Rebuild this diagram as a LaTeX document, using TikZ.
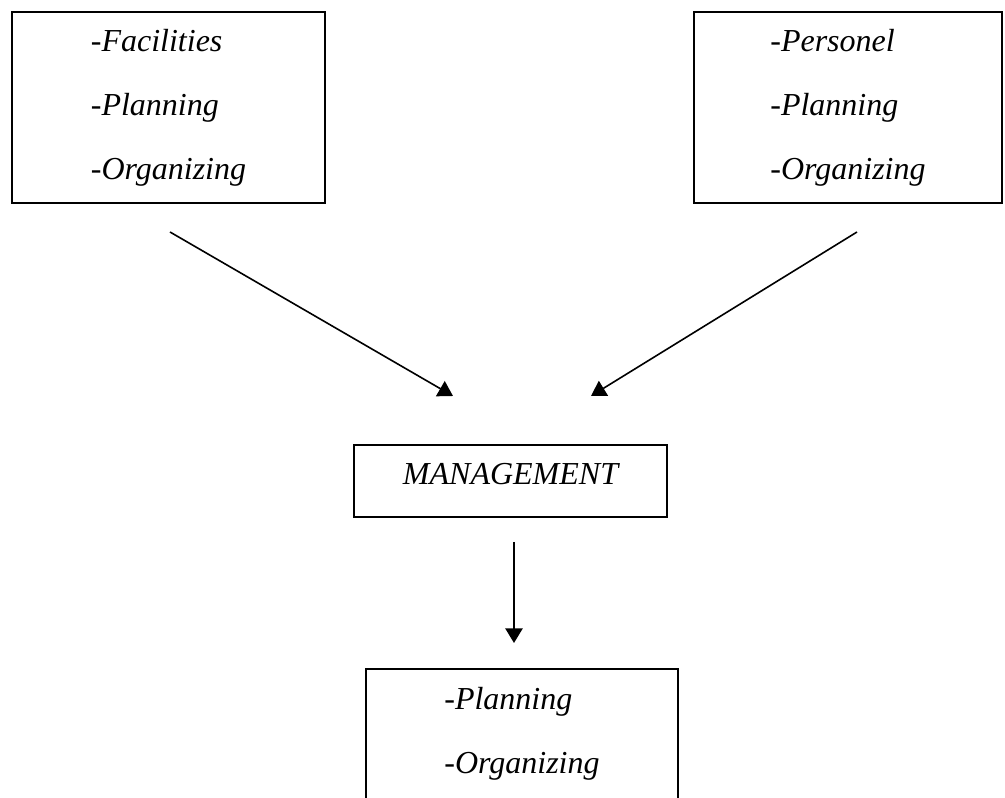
\documentclass[tikz,border=0pt]{standalone}
\usepackage{fontspec}
\setmainfont{Liberation Serif}
\usetikzlibrary{arrows.meta}

\begin{document}
\begin{tikzpicture}[x=0.375pt, y=-0.375pt,
    box/.style={rectangle, draw, line width=0.75pt, align=left, font=\fontsize{12}{14.5}\selectfont\itshape},
    arrow/.style={-{Triangle[length=5.5pt, width=6.5pt]}, line width=0.6pt}
]
\useasboundingbox (0,0) rectangle (1005,798);
\clip (0,0) rectangle (1005,798);

% Boxes
\node[box, minimum width=117.4pt, minimum height=71.6pt] (facilities) at (168.5,107.5) {-Facilities\\[9.5pt]-Planning\\[9.5pt]-Organizing};
\node[box, minimum width=115.5pt, minimum height=71.6pt] (personel) at (848,107.5) {-Personel\\[9.5pt]-Planning\\[9.5pt]-Organizing};
\node[box, minimum width=117.4pt, minimum height=27pt, text depth=5.25pt] (management) at (510.5,481) {MANAGEMENT};
\node[box, minimum width=117pt, inner ysep=6.75pt, text depth=40pt, anchor=north] (result) at (522,668) {-Planning\\[9.5pt]-Organizing};

% Arrow ends
\coordinate (facilities-out) at (170,232);
\coordinate (personel-out) at (857,232);
\coordinate (management-inl) at (453,396);
\coordinate (management-inr) at (591,396);
\coordinate (management-out) at (514,542);
\coordinate (result-in) at (514,643);

% Arrows
\draw[arrow] (facilities-out) -- (management-inl);
\draw[arrow] (personel-out) -- (management-inr);
\draw[arrow] (management-out) -- (result-in);

\end{tikzpicture}
\end{document}
